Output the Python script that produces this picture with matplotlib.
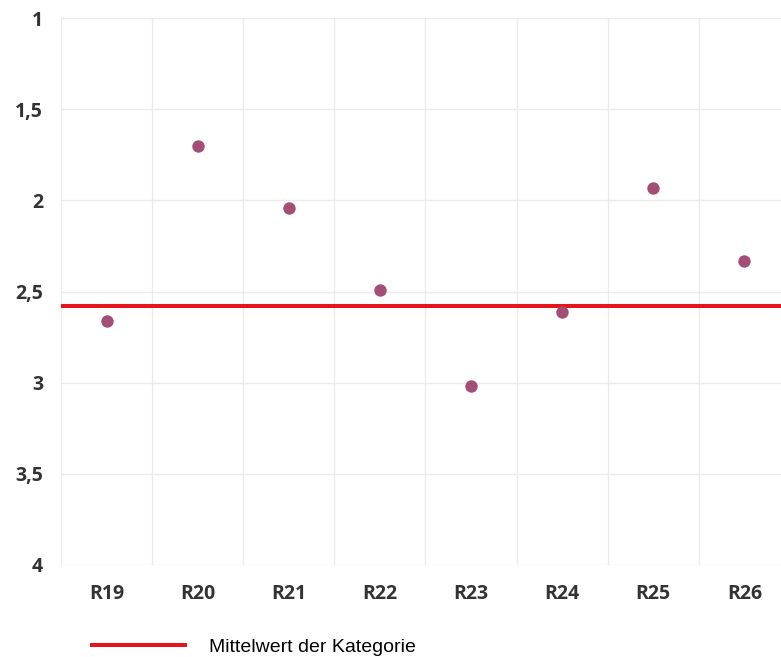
import numpy as np
import matplotlib.pyplot as plt
from matplotlib.ticker import FuncFormatter

categories = ["R19", "R20", "R21", "R22", "R23", "R24", "R25", "R26"]
values = [2.66, 1.70, 2.04, 2.49, 3.02, 2.61, 1.93, 2.33]
mean_value = 2.58
legend_label = "Mittelwert der Kategorie"

fig = plt.figure(figsize=(7.81, 6.57), dpi=100)
ax = fig.add_axes([61 / 781, 1 - 565 / 657, 729 / 781, 547 / 657])

x = np.arange(len(categories))
ax.scatter(x, values, s=80, color="#a34e75", zorder=3, linewidths=0)
line = ax.axhline(mean_value, color="#e5161b", lw=2.9, zorder=2)

ax.set_xlim(-0.5, len(categories) - 0.5)
ax.set_ylim(4, 1)
ax.set_yticks(np.arange(1, 4.01, 0.5))
ax.yaxis.set_major_formatter(FuncFormatter(lambda v, p: f"{v:g}".replace(".", ",")))
ax.set_xticks(x)
ax.set_xticklabels(categories)
ax.set_xticks(np.arange(-0.5, len(categories), 1), minor=True)

ax.grid(True, axis="y", which="major", color="#ebebeb", lw=1)
ax.grid(True, axis="x", which="minor", color="#ebebeb", lw=1)
ax.tick_params(axis="both", which="both", length=0)
ax.tick_params(axis="y", pad=13)
ax.tick_params(axis="x", pad=14)
for s in ax.spines.values():
    s.set_visible(False)

for lab in ax.get_xticklabels() + ax.get_yticklabels():
    lab.set_fontfamily("Open Sans")
    lab.set_fontweight("bold")
    lab.set_fontsize(14)
    lab.set_color("#333333")

fig.legend([line], [legend_label], loc="center left",
           bbox_to_anchor=(92 / 781, 1 - 647 / 657), frameon=False,
           borderpad=0, borderaxespad=0,
           handlelength=4.8, handletextpad=1.2,
           prop={"family": "Liberation Sans", "size": 14})

fig.savefig("out.png", dpi=100)
